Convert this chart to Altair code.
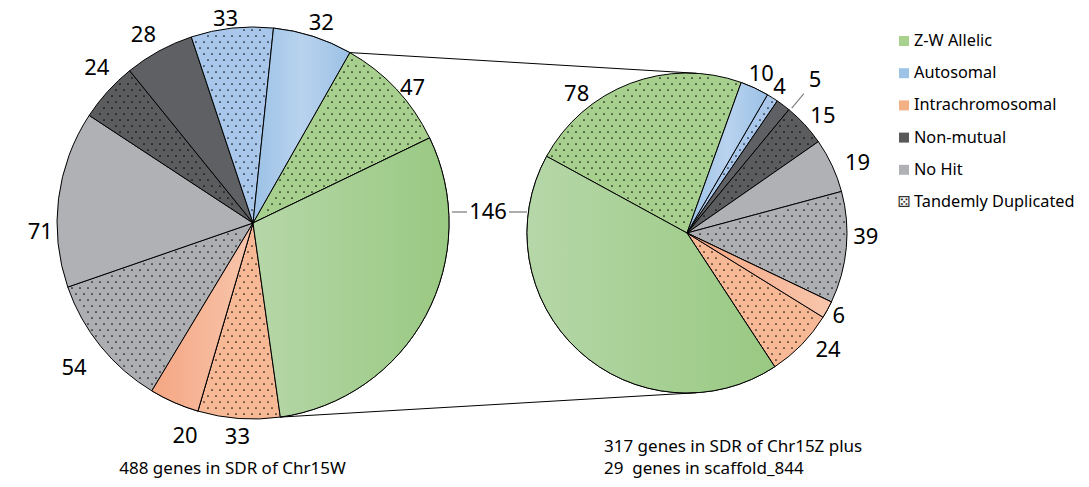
import math
import altair as alt
import pandas as pd

# ---------------- data ----------------
left_categories = ["Autosomal", "Z-W Allelic", "Z-W Allelic", "Intrachromosomal", "Intrachromosomal",
                   "No Hit", "No Hit", "Non-mutual", "Non-mutual", "Autosomal"]
left_tandem = [False, True, False, True, False, True, False, True, False, True]
left_values = [32, 47, 146, 33, 20, 54, 71, 24, 28, 33]

right_categories = ["Autosomal", "Autosomal", "Non-mutual", "Non-mutual", "No Hit", "No Hit",
                    "Intrachromosomal", "Intrachromosomal", "Z-W Allelic", "Z-W Allelic"]
right_tandem = [False, True, False, True, False, True, False, True, False, True]
right_values = [10, 4, 5, 15, 19, 39, 6, 24, 146, 78]

legend_labels = ["Z-W Allelic", "Autosomal", "Intrachromosomal", "Non-mutual", "No Hit", "Tandemly Duplicated"]
caption_left = "488 genes in SDR of Chr15W"
caption_right = ["317 genes in SDR of Chr15Z plus", "29\u00a0 genes in scaffold_844"]

# ---------------- styles ----------------
solid_colors = {"Z-W Allelic": "#a8cf93", "Autosomal": "#a6c6ea", "Intrachromosomal": "#f6b494",
                "Non-mutual": "#5f6063", "No Hit": "#b0b1b5"}
dotted_colors = {"Z-W Allelic": "#a7cf8e", "Autosomal": "#a9c7ea", "Intrachromosomal": "#f7b896",
                 "Non-mutual": "#5b5c5e", "No Hit": "#adaeb2"}
gradients = {
    "Z-W Allelic": [(0, "#b6d7a8"), (1, "#99c982")],
    "Autosomal": [(0, "#9bc1e5"), (0.5, "#b9d3ef"), (1, "#9bc1e5")],
    "Intrachromosomal": [(0, "#f4a682"), (1, "#f8c6ad")],
}
legend_colors = ["#a9d18e", "#9dc3e6", "#f4b183", "#595959", "#b0b1b5", "#ffffff"]
FONT = "Noto Sans"

# ---------------- layout ----------------
W, H = 1073, 471
PIES = {"left": dict(cx=253, cy=223, R=196, rot=6.0),
        "right": dict(cx=687, cy=233, R=160, rot=19.8)}
DOT_DX, DOT_DY = 8, 6
LEG_X, LEG_Y0, LEG_DY = 904, 41, 32.2
# label placement tweaks (angle shift in degrees, extra radial distance in px), keyed by (pie, slice index)
label_adjust = {("left", 1): (2.8, -5), ("left", 8): (-1.6, 5), ("left", 7): (2.6, 6),
                ("left", 6): (-9.5, 0), ("left", 5): (0, 16), ("left", 4): (-6, 13), ("left", 3): (0, 7),
                ("left", 0): (1, 1), ("left", 9): (-1.5, -3),
                ("right", 2): (3, 26), ("right", 3): (2, 1), ("right", 4): (2.6, 6), ("right", 5): (-4, 2),
                ("right", 7): (-4.6, 5), ("right", 9): (-17.7, 0)}
leader_labels = {("right", 2)}

rows = []
for pie, cats, tand, vals in [("left", left_categories, left_tandem, left_values),
                              ("right", right_categories, right_tandem, right_values)]:
    for i, (c, t, v) in enumerate(zip(cats, tand, vals)):
        da, dr = label_adjust.get((pie, i), (0, 0))
        rows.append(dict(pie=pie, idx=i, category=c, tandem=t, value=v,
                         fillc=(dotted_colors if t else solid_colors)[c],
                         nudge=da, push=dr, leader=(pie, i) in leader_labels, **PIES[pie]))
df = pd.DataFrame(rows)

xs = alt.Scale(domain=[8, 8 + W], range=[0, W], nice=False, zero=False)
ys = alt.Scale(domain=[8, 8 + H], range=[0, H], nice=False, zero=False)


def pos(xf, yf):
    return dict(x=alt.X(xf, type="quantitative", scale=xs, axis=None),
                y=alt.Y(yf, type="quantitative", scale=ys, axis=None))


base = (alt.Chart(df)
        .transform_joinaggregate(total="sum(value)", groupby=["pie"])
        .transform_window(cum="sum(value)", groupby=["pie"], sort=[alt.SortField("idx")], frame=[None, 0])
        .transform_calculate(a0="datum.rot*PI/180 + 2*PI*(datum.cum - datum.value)/datum.total")
        .transform_calculate(a1="datum.rot*PI/180 + 2*PI*datum.cum/datum.total")
        .transform_calculate(mid="(datum.a0 + datum.a1)/2")
        .transform_calculate(lm="datum.mid + datum.nudge*PI/180"))

arc_enc = dict(**pos("cx", "cy"),
               theta=alt.Theta("a0:Q", scale=None),
               theta2=alt.Theta2("a1:Q"),
               radius=alt.Radius("R:Q", scale=None))

arcs = base.mark_arc(stroke="black", strokeWidth=1).encode(fill=alt.Fill("fillc:N", scale=None), **arc_enc)

grad_layers = []
for cat, stops in gradients.items():
    g = alt.LinearGradient(gradient="linear",
                           stops=[alt.GradientStop(color=c, offset=o) for o, c in stops],
                           x1=0, x2=1, y1=0, y2=0)
    grad_layers.append(
        base.transform_filter(f"datum.category == '{cat}' && !datum.tandem")
        .mark_arc(fill=g, stroke="black", strokeWidth=1).encode(**arc_enc))

dots = (base.transform_filter("datum.tandem")
        .transform_calculate(n0x=f"floor((datum.cx - datum.R)/{DOT_DX})")
        .transform_calculate(n0y=f"floor((datum.cy - datum.R)/{DOT_DY})")
        .transform_calculate(ncol=f"ceil(2*datum.R/{DOT_DX}) + 2")
        .transform_calculate(nrow=f"ceil(2*datum.R/{DOT_DY}) + 2")
        .transform_calculate(seq="sequence(0, datum.ncol*datum.nrow)")
        .transform_flatten(["seq"])
        .transform_calculate(row="floor(datum.seq / datum.ncol)")
        .transform_calculate(col="datum.seq % datum.ncol")
        .transform_calculate(gy=f"(datum.n0y + datum.row)*{DOT_DY}")
        .transform_calculate(gx=f"(datum.n0x + datum.col)*{DOT_DX} + ((datum.n0y + datum.row) % 2)*{DOT_DX/2}")
        .transform_calculate(ddx="datum.gx - datum.cx")
        .transform_calculate(ddy="datum.gy - datum.cy")
        .transform_calculate(rr="sqrt(datum.ddx*datum.ddx + datum.ddy*datum.ddy)")
        .transform_calculate(ang="atan2(datum.ddx, -datum.ddy)")
        .transform_calculate(t="(datum.ang - datum.a0) - 2*PI*floor((datum.ang - datum.a0)/(2*PI))")
        .transform_calculate(span="datum.a1 - datum.a0")
        .transform_filter("datum.rr < datum.R - 2.5 && datum.rr > 4 && datum.t < datum.span && "
                          "(datum.t >= PI/2 || datum.rr*sin(datum.t) > 2.2) && "
                          "(datum.span - datum.t >= PI/2 || datum.rr*sin(datum.span - datum.t) > 2.2)")
        .mark_circle(size=3, color="black", opacity=0.9)
        .encode(**pos("gx", "gy")))

labels = (base.transform_filter("datum.tandem || datum.category != 'Z-W Allelic'")
          .transform_calculate(lab="'' + datum.value")
          .transform_calculate(hw="length('' + datum.value)*6.3")
          .transform_calculate(dist="datum.R + 4 + datum.push + datum.hw*abs(sin(datum.lm)) + 7*abs(cos(datum.lm))")
          .transform_calculate(lx="datum.cx + datum.dist*sin(datum.lm)")
          .transform_calculate(ly="datum.cy - datum.dist*cos(datum.lm)")
          .mark_text(font=FONT, fontSize=22, align="center", baseline="middle", color="black")
          .encode(**pos("lx", "ly"), text="lab:N"))

leader_lines = (base.transform_filter("datum.leader")
                .transform_calculate(ax="datum.cx + (datum.R + 3)*sin(datum.lm)")
                .transform_calculate(ay="datum.cy - (datum.R + 3)*cos(datum.lm)")
                .transform_calculate(bx="datum.cx + (datum.R + 22)*sin(datum.lm)")
                .transform_calculate(by="datum.cy - (datum.R + 22)*cos(datum.lm)")
                .mark_rule(color="#808080", strokeWidth=1.2)
                .encode(**pos("ax", "ay"), x2="bx:Q", y2="by:Q"))

# shared label for the Z-W allelic solid slice (same count in both pies)
L, Rp = PIES["left"], PIES["right"]
edgeL = L["cx"] + L["R"]
edgeR = Rp["cx"] - Rp["R"]
sx = (edgeL + edgeR) / 2
sy = L["cy"] - 11
shared_df = pd.DataFrame({"lab": [str(left_values[2])], "x": [sx], "y": [sy]})
shared = alt.Chart(shared_df).mark_text(font=FONT, fontSize=22, align="center", baseline="middle",
                                        color="black").encode(**pos("x", "y"), text="lab:N")
lead_df = pd.DataFrame({"x": [edgeL + 3, sx + 21], "x2": [sx - 21, edgeR], "y": [sy, sy]})
leaders = alt.Chart(lead_df).mark_rule(color="#808080", strokeWidth=1.3).encode(
    x=alt.X("x:Q", scale=xs, axis=None), x2="x2:Q", y=alt.Y("y:Q", scale=ys, axis=None))


# connectors between pies: from boundaries of the Z-W allelic group on the left pie,
# tangent to the right pie
def boundary(p, frac):
    a = math.radians(p["rot"]) + 2 * math.pi * frac
    return p["cx"] + p["R"] * math.sin(a), p["cy"] - p["R"] * math.cos(a)


def tangent(px, py, p, sign):
    d = math.hypot(px - p["cx"], py - p["cy"])
    phi = math.atan2(px - p["cx"], -(py - p["cy"]))
    a = phi + sign * math.acos(p["R"] / d)
    return p["cx"] + p["R"] * math.sin(a), p["cy"] - p["R"] * math.cos(a)


totL = sum(left_values)
tp = boundary(L, sum(left_values[:1]) / totL)
bp = boundary(L, sum(left_values[:3]) / totL)
tq = tangent(tp[0], tp[1], Rp, +1)
bq = tangent(bp[0], bp[1], Rp, -1)
conn_df = pd.DataFrame({"x": [tp[0], bp[0]], "y": [tp[1], bp[1]], "x2": [tq[0], bq[0]], "y2": [tq[1], bq[1]]})
connectors = alt.Chart(conn_df).mark_rule(color="black", strokeWidth=1).encode(
    x=alt.X("x:Q", scale=xs, axis=None), y=alt.Y("y:Q", scale=ys, axis=None), x2="x2:Q", y2="y2:Q")

# legend
leg_df = pd.DataFrame({"label": legend_labels, "color": legend_colors, "i": range(len(legend_labels))})
leg_base = alt.Chart(leg_df).transform_calculate(
    lx=f"{LEG_X}", ly=f"{LEG_Y0} + datum.i*{LEG_DY}", tx=f"{LEG_X + 10}")
leg_sq = leg_base.transform_filter(f"datum.i < {len(legend_labels) - 1}").mark_square(size=100, opacity=1).encode(
    **pos("lx", "ly"), fill=alt.Fill("color:N", scale=None))
leg_die = leg_base.transform_filter(f"datum.i == {len(legend_labels) - 1}").transform_calculate(
    die="'\u2684'").mark_text(font="DejaVu Sans", fontSize=15, align="center", baseline="middle",
                             color="#333333").encode(**pos("lx", "ly"), text="die:N")
leg_txt = leg_base.mark_text(font=FONT, fontSize=16.3, align="left", baseline="middle", color="black").encode(
    **pos("tx", "ly"), text="label:N")

# captions
cap_l = alt.Chart(pd.DataFrame({"t": [caption_left]})).mark_text(
    font=FONT, fontSize=17, align="center", baseline="alphabetic", color="black").encode(
    x=alt.value(232.5 - 8), y=alt.value(473.5 - 8), text="t:N")
cap_r = alt.Chart(pd.DataFrame({"t": [caption_right[0]]})).mark_text(
    font=FONT, fontSize=17, align="left", baseline="alphabetic", color="black", lineHeight=22).encode(
    x=alt.value(604 - 8), y=alt.value(452 - 8), text=alt.value(caption_right))

chart = alt.layer(arcs, *grad_layers, dots, connectors, leaders, leader_lines, labels, shared,
                  leg_sq, leg_die, leg_txt, cap_l, cap_r).properties(
    width=W, height=H, padding=0, autosize=alt.AutoSizeParams(type="none")
).configure_view(stroke=None)

chart.save("out.html", embed_options={"renderer": "svg", "actions": False})
